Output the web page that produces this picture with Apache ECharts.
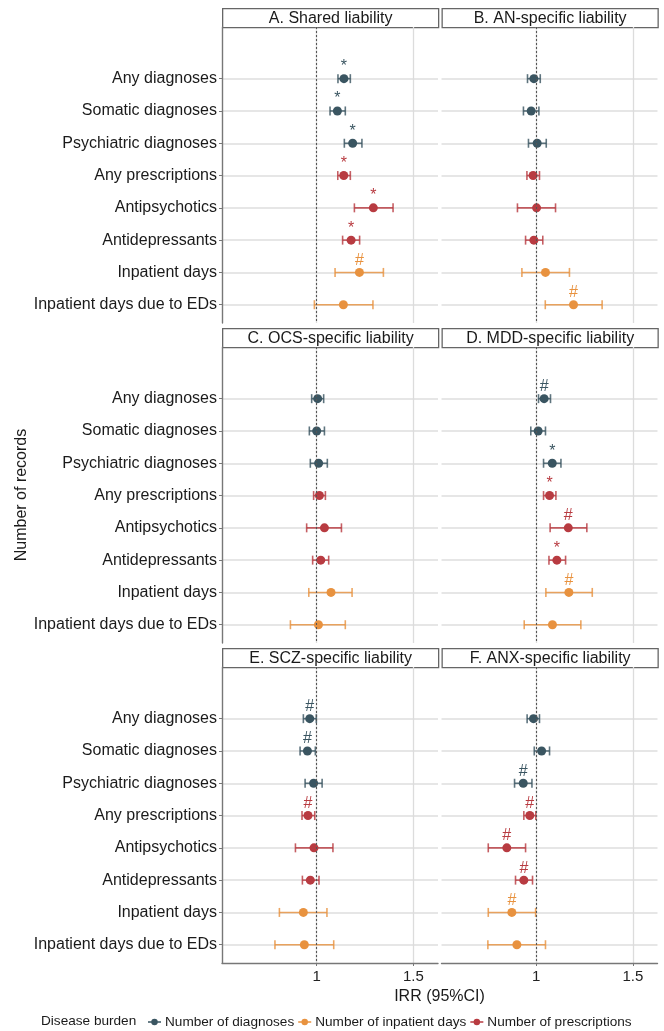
<!DOCTYPE html>
<html>
<head>
<meta charset="utf-8">
<script src="https://cdn.jsdelivr.net/npm/echarts@6/dist/echarts.min.js"></script>
<style>
html,body{margin:0;padding:0;background:#fff;}
#chart{width:664px;height:1031px;}
</style>
</head>
<body>
<div id="chart"></div>
<script>
// ---------- data ----------
const categories = ['Any diagnoses','Somatic diagnoses','Psychiatric diagnoses','Any prescriptions','Antipsychotics','Antidepressants','Inpatient days','Inpatient days due to EDs'];
const burdenGroup = [0,0,0,2,2,2,1,1];
const groupNames = ['Number of diagnoses','Number of inpatient days','Number of prescriptions'];
const panelTitles = ['A. Shared liability','B. AN-specific liability','C. OCS-specific liability','D. MDD-specific liability','E. SCZ-specific liability','F. ANX-specific liability'];
const xTicks = [1, 1.5];

const irrA  = [1.141,1.107,1.186,1.140,1.293,1.178,1.221,1.138];
const lowA  = [1.110,1.069,1.143,1.109,1.195,1.134,1.095,0.988];
const highA = [1.174,1.148,1.234,1.174,1.395,1.222,1.345,1.291];
const sigA  = ['*','*','*','*','*','*','#',''];

const irrB  = [0.988,0.974,1.005,0.984,1.002,0.988,1.048,1.193];
const lowB  = [0.955,0.934,0.960,0.952,0.903,0.945,0.926,1.047];
const highB = [1.021,1.014,1.052,1.017,1.100,1.034,1.172,1.341];
const sigB  = ['','','','','','','','#'];

const irrC  = [1.005,1.000,1.010,1.014,1.040,1.021,1.074,1.009];
const lowC  = [0.974,0.962,0.967,0.984,0.948,0.979,0.959,0.864];
const highC = [1.036,1.040,1.055,1.045,1.128,1.062,1.183,1.148];
const sigC  = ['','','','','','','',''];

const irrD  = [1.041,1.010,1.083,1.069,1.166,1.107,1.169,1.084];
const lowD  = [1.012,0.972,1.038,1.038,1.072,1.066,1.050,0.938];
const highD = [1.074,1.048,1.128,1.102,1.262,1.152,1.290,1.231];
const sigD  = ['#','','*','*','#','*','#',''];

const irrE  = [0.964,0.952,0.984,0.955,0.986,0.967,0.931,0.936];
const lowE  = [0.931,0.914,0.940,0.924,0.890,0.926,0.807,0.784];
const highE = [0.998,0.993,1.028,0.990,1.084,1.012,1.053,1.088];
const sigE  = ['#','#','','#','','','',''];

const irrF  = [0.986,1.028,0.933,0.967,0.848,0.936,0.874,0.900];
const lowF  = [0.953,0.990,0.888,0.936,0.752,0.893,0.752,0.750];
const highF = [1.017,1.069,0.978,0.998,0.945,0.981,0.997,1.048];
const sigF  = ['','','#','#','#','#','#',''];

// ---------- styling / layout ----------
const panels = [
  {irr: irrA, low: lowA, high: highA, sig: sigA},
  {irr: irrB, low: lowB, high: highB, sig: sigB},
  {irr: irrC, low: lowC, high: highC, sig: sigC},
  {irr: irrD, low: lowD, high: highD, sig: sigD},
  {irr: irrE, low: lowE, high: highE, sig: sigE},
  {irr: irrF, low: lowF, high: highF, sig: sigF}
];
const groupColors = ['#3a5561','#e8923f','#b83b41'];
const FONT = "'Liberation Sans', Arial, sans-serif";
const colX = [222, 441.5];
const colW = 216;
const rowTop = [27, 347, 667];
const plotH = 296;
const stripH = 19;
const X_MIN = 0.5101, X_MAX = 1.6275;

const grids = [], xAxes = [], yAxes = [], series = [], graphics = [];

panels.forEach((p, k) => {
  const col = k % 2, row = Math.floor(k / 2);
  const isLeft = col === 0, isBottom = row === 2;
  grids.push({left: colX[col], top: rowTop[row], width: colW, height: plotH, containLabel: false});
  xAxes.push({
    type: 'value', gridIndex: k, min: X_MIN, max: X_MAX,
    axisLine: {show: isBottom, onZero: false, lineStyle: {color: '#777', width: 1.4}},
    axisTick: {show: isBottom, customValues: xTicks, length: 3, lineStyle: {color: '#777'}},
    axisLabel: {show: isBottom, customValues: xTicks, fontSize: 15, color: '#222', fontFamily: FONT, margin: 6,
      formatter: v => String(v)},
    splitLine: {show: true, lineStyle: {color: '#dcdcdc', width: 1.3}}
  });
  yAxes.push({
    type: 'value', gridIndex: k, min: -1.6, max: 7.566, inverse: true,
    axisLine: {show: isLeft, lineStyle: {color: '#777', width: 1.4}},
    axisTick: {show: isLeft, customValues: [0,1,2,3,4,5,6,7], length: 3, lineStyle: {color: '#777'}},
    axisLabel: {show: isLeft, customValues: [0,1,2,3,4,5,6,7], fontSize: 16, color: '#1a1a1a', fontFamily: FONT, margin: 5,
      formatter: v => categories[Math.round(v)] || ''},
    splitLine: {show: true, lineStyle: {color: '#dedede', width: 1.5}}
  });

  // reference line at IRR = 1
  series.push({
    type: 'line', xAxisIndex: k, yAxisIndex: k, data: [], silent: true,
    markLine: {silent: true, symbol: ['none','none'], label: {show: false},
      lineStyle: {color: '#555', type: [2, 2], width: 1.1},
      data: [{xAxis: 1}]}
  });

  groupNames.forEach((gName, g) => {
    const idx = categories.map((c, i) => i).filter(i => burdenGroup[i] === g);
    const color = groupColors[g];
    // error bars
    series.push({
      name: gName, type: 'custom', xAxisIndex: k, yAxisIndex: k,
      itemStyle: {color: color},
      encode: {x: [0, 1], y: 2},
      data: idx.map(i => [p.low[i], p.high[i], i]),
      renderItem: (params, api) => {
        const y = api.value(2);
        const a = api.coord([api.value(0), y]);
        const b = api.coord([api.value(1), y]);
        const h = 4.5;
        const st = {stroke: color, lineWidth: 1.6, opacity: 0.82};
        return {type: 'group', children: [
          {type: 'line', shape: {x1: a[0], y1: a[1], x2: b[0], y2: b[1]}, style: st},
          {type: 'line', shape: {x1: a[0], y1: a[1]-h, x2: a[0], y2: a[1]+h}, style: st},
          {type: 'line', shape: {x1: b[0], y1: b[1]-h, x2: b[0], y2: b[1]+h}, style: st}
        ]};
      },
      z: 3
    });
    // points with significance marks
    series.push({
      name: gName, type: 'scatter', xAxisIndex: k, yAxisIndex: k,
      symbol: 'circle', symbolSize: 9,
      itemStyle: {color: color, opacity: 1},
      data: idx.map(i => [p.irr[i], i, p.sig[i]]),
      label: {show: true, position: 'top', distance: -0.5, fontSize: 16, fontFamily: FONT, color: color,
        formatter: d => d.data[2]},
      z: 4
    });
  });

  // strip header
  graphics.push({
    type: 'group', left: colX[col], top: rowTop[row] - stripH,
    children: [
      {type: 'rect', shape: {x: 0, y: 0, width: colW, height: stripH},
        style: {fill: '#fff', stroke: '#666', lineWidth: 1.3}},
      {type: 'text', x: colW / 2, y: stripH / 2 + 0.5,
        style: {text: panelTitles[k], fontSize: 16, fontFamily: FONT, fill: '#1a1a1a', align: 'center', verticalAlign: 'middle'}}
    ]
  });
});

// axis titles and legend title
graphics.push({type: 'text', x: 439.5, y: 997, style: {text: 'IRR (95%CI)', fontSize: 16, fontFamily: FONT, fill: '#1a1a1a', align: 'center', verticalAlign: 'middle'}});
graphics.push({type: 'text', x: 22, y: 495, rotation: Math.PI / 2, style: {text: 'Number of records', fontSize: 16, fontFamily: FONT, fill: '#1a1a1a', align: 'center', verticalAlign: 'middle'}});
graphics.push({type: 'text', x: 41, y: 1021, style: {text: 'Disease burden', fontSize: 13.6, fontFamily: FONT, fill: '#1a1a1a', align: 'left', verticalAlign: 'middle'}});

const legendIcon = 'path://M0,3.3h14v1.4h-14zM7,0.5a3.5,3.5 0 1 1 0,7a3.5,3.5 0 1 1 0,-7z';

const option = {
  animation: false,
  backgroundColor: '#fff',
  grid: grids,
  xAxis: xAxes,
  yAxis: yAxes,
  series: series,
  graphic: graphics,
  legend: {
    left: 143, top: 1010, itemWidth: 13, itemHeight: 8, itemGap: 4,
    selectedMode: false,
    textStyle: {fontSize: 13.6, fontFamily: FONT, color: '#1a1a1a', padding: [0,0,0,-1]},
    data: groupNames.map((n, g) => ({name: n, icon: legendIcon, itemStyle: {color: groupColors[g]}}))
  }
};

const chart = echarts.init(document.getElementById('chart'), null, {renderer: 'canvas'});
chart.setOption(option);
</script>
</body>
</html>
